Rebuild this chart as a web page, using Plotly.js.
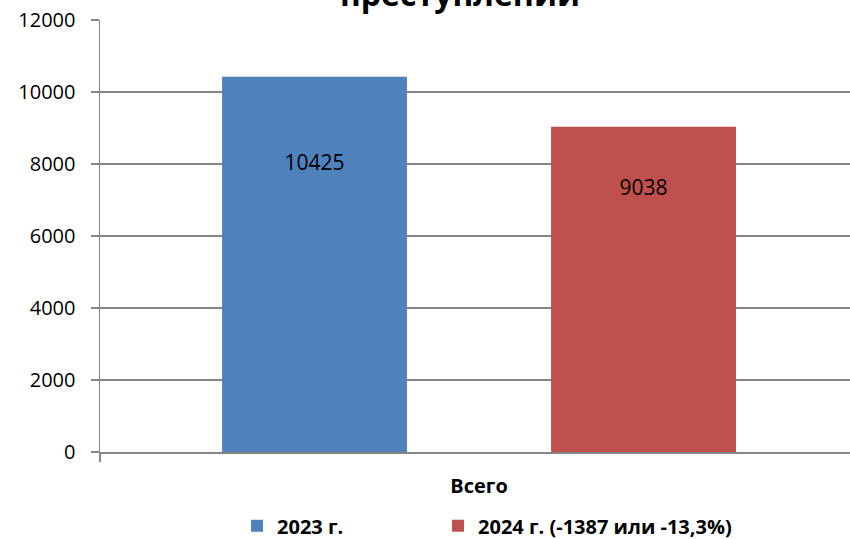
<!DOCTYPE html>
<html>
<head>
<meta charset="utf-8">
<script src="https://cdn.plot.ly/plotly-3.0.1.min.js"></script>
<style>html,body{margin:0;padding:0;background:#fff;}#chart{width:850px;height:539px;}</style>
</head>
<body>
<div id="chart"></div>
<script>
var categories = ['Всего'];
var seriesNames = ['2023 г.', '2024 г. (-1387 или -13,3%)'];
var values2023 = [10425];
var values2024 = [9038];
var yTickVals = [0, 2000, 4000, 6000, 8000, 10000, 12000];
var titleText = 'преступлений';

var colors = ['#4F81BD', '#C0504D'];
var font = 'Open Sans, Liberation Sans, sans-serif';
var plotTop = 19.5, plotBottom = 452;
var unitPerPx = 12000 / (plotBottom - plotTop);
var labelDrop = [88, 63]; // px below bar top (styling)
var legendIds = ['legend', 'legend2'];

var seriesVals = [values2023, values2024];
var data = [];
seriesVals.forEach(function (vals, i) {
  data.push({
    type: 'bar', x: categories, y: vals, name: seriesNames[i],
    marker: {color: colors[i]}, offsetgroup: String(i), alignmentgroup: 'g',
    legend: legendIds[i], hoverinfo: 'skip'
  });
});
seriesVals.forEach(function (vals, i) {
  data.push({
    type: 'scatter', mode: 'text', x: categories,
    y: vals.map(function (v) { return v - labelDrop[i] * unitPerPx; }),
    text: vals.map(String), textposition: 'middle center',
    textfont: {family: font, size: 21, color: '#000'},
    offsetgroup: String(i), alignmentgroup: 'g', showlegend: false, hoverinfo: 'skip'
  });
});

var legendFont = {family: font, size: 20, color: '#000', weight: 'bold'};
var legendY = -0.171;

var layout = {
  width: 850, height: 539,
  margin: {l: 100, r: 0, t: plotTop, b: 539 - plotBottom, pad: 0, autoexpand: false},
  paper_bgcolor: '#fff', plot_bgcolor: '#fff',
  barmode: 'group', scattermode: 'group',
  bargap: 0.132, bargroupgap: 0.438, scattergap: 0.132,
  showlegend: true,
  legend: {orientation: 'h', x: 0.1827, xanchor: 'left', y: legendY, yanchor: 'middle',
    font: legendFont, itemwidth: 30},
  legend2: {orientation: 'h', x: 0.4507, xanchor: 'left', y: legendY, yanchor: 'middle',
    font: legendFont, itemwidth: 30},
  xaxis: {type: 'category', range: [-0.5, 0.4894], fixedrange: true, automargin: false,
    showline: true, linecolor: '#868686', linewidth: 1.5,
    ticks: 'outside', ticklen: 8, tickcolor: '#868686', tickwidth: 1.5, tickson: 'boundaries',
    ticklabelstandoff: 15,
    tickfont: {family: font, size: 20, color: '#000', weight: 'bold'}, showgrid: false},
  yaxis: {range: [0, 12000], tickvals: yTickVals, ticktext: yTickVals.map(String), automargin: false,
    showline: true, linecolor: '#868686', linewidth: 1.5,
    ticks: 'outside', ticklen: 8, tickcolor: '#868686', tickwidth: 1.5,
    showgrid: true, gridcolor: '#868686', gridwidth: 1.5, zeroline: false,
    ticklabelstandoff: 11,
    tickfont: {family: font, size: 20, color: '#000'}},
  annotations: [{
    text: titleText, xref: 'paper', yref: 'paper', x: (460 - 100) / 750, xanchor: 'center',
    y: 1, yanchor: 'bottom', yshift: 3, showarrow: false,
    font: {family: font, size: 32, color: '#000', weight: 'bold'}
  }]
};
Plotly.newPlot('chart', data, layout, {displayModeBar: false, staticPlot: true});
</script>
</body>
</html>
